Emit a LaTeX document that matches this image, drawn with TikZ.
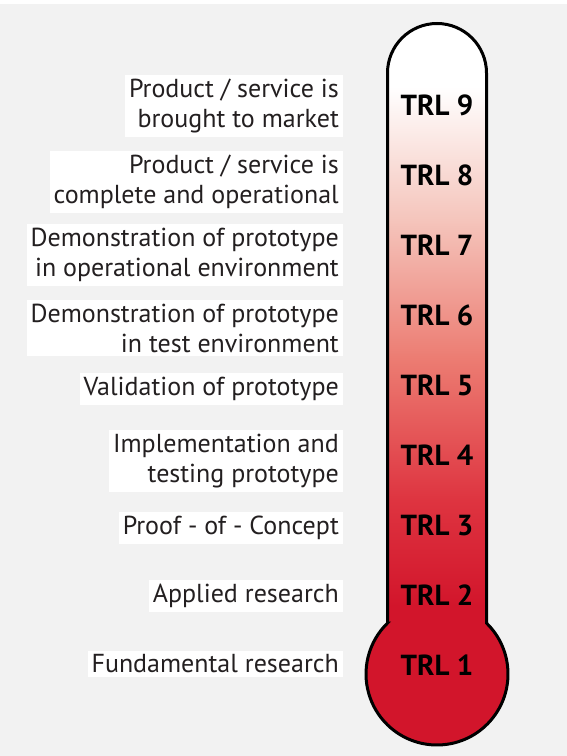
\documentclass[tikz,border=0pt]{standalone}
\usepackage{fontspec}
\setmainfont{PT Sans}
\definecolor{trlred}{HTML}{D2152B}
\definecolor{bggray}{HTML}{F2F2F2}
\definecolor{inkdark}{HTML}{231F20}
% red at the bulb, fading through salmon to white towards the top of the tube
\pgfdeclareverticalshading{thermofill}{100bp}{color(0bp)=(trlred); color(35bp)=(trlred);
	color(42.3bp)=(rgb,255:red,222;green,52;blue,64);
	color(52bp)=(rgb,255:red,236;green,124;blue,114);
	color(61.7bp)=(rgb,255:red,245;green,198;blue,189);
	color(70.7bp)=(white); color(100bp)=(white)}

\begin{document}
\begin{tikzpicture}[
	x=1pt, y=1pt,
	level/.style={fill=white, text=inkdark, align=right, anchor=east,
		inner sep=4pt, font=\fontsize{26}{30}\selectfont},
	trl/.style={text=black, inner sep=0pt, font=\fontsize{29}{30}\selectfont\bfseries}
]
%
% page
\fill[bggray] (0,0) rectangle (567,756);
\fill[white] (0,752) rectangle (567,756);
\useasboundingbox (0,0) rectangle (567,756);
%
% thermometer: tube with round cap, bulb at the bottom
\path[shading=thermofill, draw=black, line width=3pt]
	(387.5,132.9) -- (387.5,683)
	arc[start angle=180, end angle=0, radius=49.5]
	-- (486.5,132.9)
	arc[start angle=45.8, end angle=-225.8, radius=71] -- cycle;
%
% readiness levels, 1 at the bulb
\foreach \lvl in {1,...,9}{%
	\node(trl\lvl)[trl] at (437,{91+70*(\lvl-1)}) {TRL \lvl};%
}
%
% descriptions to the left
\node(d9)[level] at (343,650) {Product / service is\\brought to market};%
\node(d8)[level] at (343,574) {Product / service is\\complete and operational};%
\node(d7)[level] at (343,501) {Demonstration of prototype\\in operational environment};%
\node(d6)[level] at (343,428) {Demonstration of prototype\\in test environment};%
\node(d5)[level] at (343,367) {Validation of prototype};%
\node(d4)[level] at (343,295) {Implementation and\\testing prototype};%
\node(d3)[level] at (343,228) {Proof - of - Concept};%
\node(d2)[level] at (343,160) {Applied research};%
\node(d1)[level] at (343,92) {Fundamental research};%
%
\end{tikzpicture}
\end{document}
